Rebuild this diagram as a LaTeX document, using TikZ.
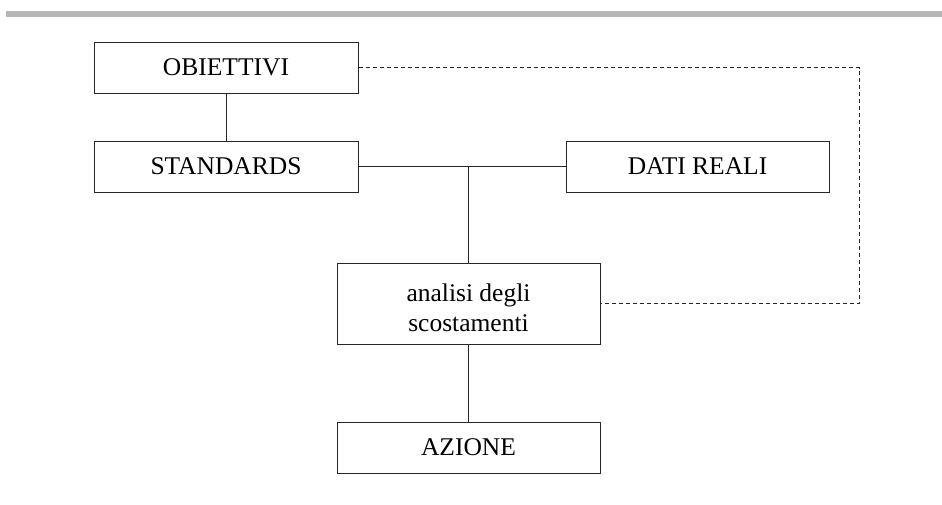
\documentclass[tikz,border=0pt]{standalone}
\usepackage{fontspec}
\setmainfont{Liberation Serif}
\begin{document}
\begin{tikzpicture}[x=1pt,y=-1pt,
  box/.style={draw=black!85, line width=1pt, rectangle, inner sep=0pt,
    minimum width=264pt, minimum height=51pt, align=center,
    font=\fontsize{25.5}{30}\selectfont},
  link/.style={draw=black!85, line width=1pt},
  feedback/.style={draw=black!85, line width=0.9pt, dash pattern=on 4pt off 3pt}]
\useasboundingbox (0,0) rectangle (942,504);
% header rule
\fill[fill={rgb,255:red,180;green,182;blue,184}] (6,11) rectangle (942,17);

\node[box] (obj) at (226,67.5) {OBIETTIVI};
\node[box] (std) at (226,166.5) {STANDARDS};
\node[box, minimum width=263pt] (dati) at (697.5,166.5) {DATI REALI};
\node[box, minimum width=263pt, minimum height=81pt] (ana) at (468.5,303.5) {};
\node[align=center, inner sep=0pt, font=\fontsize{25.5}{30}\selectfont] (anatext)
  at ([yshift=-4pt]ana.center) {analisi degli\\scostamenti};
\node[box, minimum width=263pt] (azi) at (468.5,447.5) {AZIONE};
\coordinate (loop) at (859,0);

\draw[link] (obj.south) -- (std.north);
\draw[link] (std.east) -- (dati.west);
\draw[link] (ana.north) -- (ana.north |- std.east);
\draw[link] (ana.south) -- (azi.north);
\draw[feedback] (obj.east) -- (obj.east -| loop) |- (ana.east);
\end{tikzpicture}
\end{document}
